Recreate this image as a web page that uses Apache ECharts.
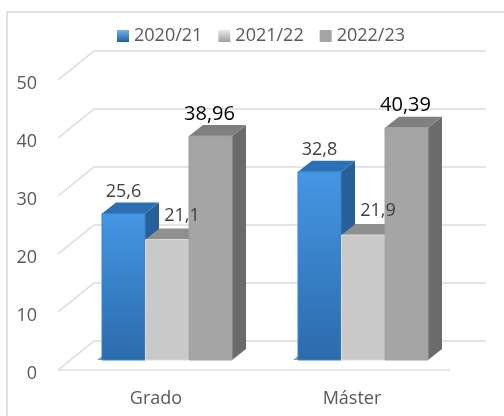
<!DOCTYPE html>
<html><head><meta charset="utf-8">
<style>html,body{margin:0;padding:0;background:#fff}#c{width:504px;height:416px}</style>
<script src="https://cdn.jsdelivr.net/npm/echarts@6/dist/echarts.min.js"></script>
</head><body><div id="c"></div>
<script>
const categories = ['Grado', 'Máster'];
const tickValues = [0, 10, 20, 30, 40, 50];
const s2020 = [25.6, 32.8];
const s2021 = [21.1, 21.9];
const s2022 = [38.96, 40.39];
const labels2020 = ['25,6', '32,8'];
const labels2021 = ['21,1', '21,9'];
const labels2022 = ['38,96', '40,39'];

const FONT = '"Open Sans", "Noto Sans", sans-serif';
const grad = (a, b) => new echarts.graphic.LinearGradient(0, 0, 0, 1, [{offset: 0, color: a}, {offset: 1, color: b}]);

// 3D projection constants (pixels)
const BASE_DY = 10, DEPTH_X = 14, DEPTH_Y = 11, BAR_W = 43, WALL_X = 36, WALL_Y = 29;

function gridItem(params, api) {
  const y = api.coord([0, api.value(1)])[1];
  const cs = params.coordSys;
  const x0 = cs.x, x1 = cs.x + cs.width;
  const style = {fill: 'none', stroke: '#dcdcdc', lineWidth: 1.6};
  const kids = [{type: 'polyline', shape: {points: [[x0, y], [x0 + WALL_X, y - WALL_Y], [x1 + WALL_X, y - WALL_Y]]}, style}];
  if (api.value(1) === 0) kids.push({type: 'line', shape: {x1: x0, y1: y, x2: x1, y2: y}, style});
  return {type: 'group', children: kids};
}

function barRenderer(slot, look, texts) {
  return function (params, api) {
    const c = api.coord([api.value(0), api.value(1)]);
    const z = api.coord([api.value(0), 0]);
    const L = c[0] + 11 + slot * (BAR_W + 0.5) - BAR_W / 2, R = L + BAR_W;
    const T = c[1] - BASE_DY + 2, B = z[1] - BASE_DY;
    const kids = [];
    if (look.shadow) kids.push({type: 'polygon', shape: {points: [[L - 5, B], [L, B - 4], [L, B]]}, style: {fill: '#9a9a9a'}});
    kids.push({type: 'polygon', shape: {points: [[R, T], [R + DEPTH_X, T - DEPTH_Y], [R + DEPTH_X, B - DEPTH_Y], [R, B]]}, style: {fill: look.side}});
    kids.push({type: 'polygon', shape: {points: [[L, T], [L + DEPTH_X, T - DEPTH_Y], [R + DEPTH_X, T - DEPTH_Y], [R, T]]}, style: {fill: look.top}});
    kids.push({type: 'rect', shape: {x: L, y: T, width: BAR_W, height: B - T}, style: {fill: look.face, stroke: look.edge, lineWidth: 1}});
    kids.push({type: 'text', z2: 50, style: {
      text: texts[params.dataIndex], x: (L + R) / 2 + look.labelDx, y: T - look.labelDy,
      align: 'center', verticalAlign: 'middle', fill: look.labelColor,
      font: look.labelSize + 'px ' + FONT}});
    return {type: 'group', children: kids};
  };
}

const series = [
  {type: 'custom', name: 'grid', silent: true, z: 1, renderItem: gridItem, data: tickValues.map(v => [0, v])},
  {type: 'custom', name: '2020/21', z: 3, itemStyle: {color: grad('#6fb2ee', '#1f5f9e')},
   renderItem: barRenderer(-1, {face: grad('#4596e4', '#2b6bab'), top: '#2c70b4', side: '#2a6099', edge: '#3a82c8', shadow: true,
     labelDx: 0, labelDy: 22, labelColor: '#404040', labelSize: 18}, labels2020),
   data: s2020.map((v, i) => [i, v])},
  {type: 'custom', name: '2021/22', z: 3, itemStyle: {color: grad('#e8e8e8', '#a0a0a0')},
   renderItem: barRenderer(0, {face: '#c9c9c9', top: '#8f8f8f', side: '#8a8a8a', edge: '#dadada',
     labelDx: 15, labelDy: 24, labelColor: '#404040', labelSize: 18}, labels2021),
   data: s2021.map((v, i) => [i, v])},
  {type: 'custom', name: '2022/23', z: 3, itemStyle: {color: '#a5a5a5'},
   renderItem: barRenderer(1, {face: '#a5a5a5', top: '#7f7f7f', side: '#6b6b6b', edge: '#a0a0a0',
     labelDx: -1, labelDy: 22, labelColor: '#000000', labelSize: 20}, labels2022),
   data: s2022.map((v, i) => [i, v])}
];

const chart = echarts.init(document.getElementById('c'), null, {renderer: 'canvas'});
chart.setOption({
  animation: false,
  backgroundColor: '#fff',
  graphic: [{type: 'rect', silent: true, z: 0, shape: {x: 7, y: 12, width: 520, height: 420},
    style: {fill: 'none', stroke: '#d9d9d9', lineWidth: 1.5}}],
  legend: {data: ['2020/21', '2021/22', '2022/23'], left: 117, top: 27, icon: 'rect', itemWidth: 12, itemHeight: 12, itemGap: 16,
    textStyle: {color: '#595959', fontFamily: FONT, fontSize: 18}, padding: 0, selectedMode: false},
  grid: {left: 58, right: 54, top: 80, bottom: 46},
  xAxis: {type: 'category', data: categories, axisLine: {show: false}, axisTick: {show: false},
    axisLabel: {color: '#595959', fontFamily: FONT, fontSize: 18, margin: 20}},
  yAxis: {type: 'value', min: 0, max: 50, interval: 10, axisLine: {show: false}, axisTick: {show: false}, splitLine: {show: false},
    axisLabel: {margin: 21, formatter: '{t|{value}}',
      rich: {t: {color: '#595959', fontFamily: FONT, fontSize: 18, padding: [8, 0, 0, 0]}}}},
  series
});
</script></body></html>
